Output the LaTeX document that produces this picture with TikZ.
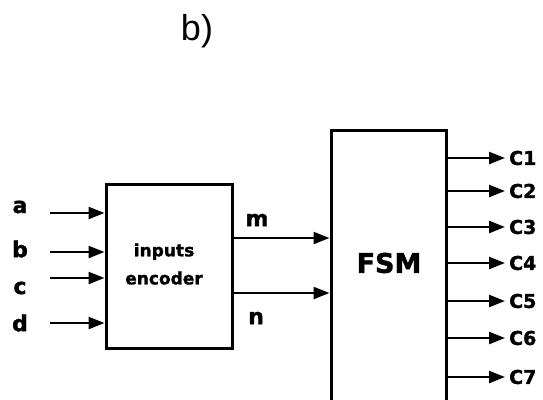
\documentclass[tikz,border=0pt]{standalone}
\usepackage{fontspec}
\setmainfont{DejaVu Sans}
\newfontfamily\titlefont{Liberation Sans}
\newfontfamily\heavy{DejaVu Sans Bold}[FakeBold=1.5]
\usetikzlibrary{arrows.meta}
\begin{document}
\begin{tikzpicture}[x=1pt,y=-1pt,
  blk/.style={draw,line width=3pt,inner sep=0pt},
  sig/.style={line width=2.4pt,-{Triangle[length=16pt,width=12pt]}},
  lbl/.style={font=\heavy\fontsize{22}{24}\selectfont,inner sep=0pt},
  clbl/.style={font=\heavy\fontsize{19}{20}\selectfont,inner sep=0pt,anchor=west}]
\useasboundingbox (0,0) rectangle (543,399);
\node[font=\titlefont\fontsize{36}{38}\selectfont] (title) at (197,31) {b)};
% boxes
\node[blk,minimum width=126pt,minimum height=164pt] (enc) at (169,266) {};
\node[blk,minimum width=115pt,minimum height=300pt] (fsm) at (388.5,280) {};
\node[font=\heavy\fontsize{17}{28}\selectfont,align=center,inner sep=0pt] (enctxt) at (164,264) {inputs\\encoder};
\node[font=\heavy\fontsize{27}{28}\selectfont,inner sep=0pt] (fsmtxt) at (389,263) {FSM};
% inputs
\node[lbl] (la) at (20,207) {a};
\node[lbl] (lb) at (20,249) {b};
\node[lbl] (lc) at (20,288) {c};
\node[lbl] (ld) at (20,323) {d};
\coordinate (ia) at (50,213);
\coordinate (ib) at (50,252);
\coordinate (ic) at (50,278);
\coordinate (id) at (50,323);
\foreach \i in {a,b,c,d}{\draw[sig] (i\i) -- (i\i -| enc.west);}
% m, n
\coordinate (pm) at (232,238);
\coordinate (pn) at (232,293);
\draw[sig] (pm -| enc.east) -- (pm -| fsm.west);
\draw[sig] (pn -| enc.east) -- (pn -| fsm.west);
\node[lbl] (lm) at (257,220) {m};
\node[lbl] (ln) at (256,318) {n};
% outputs
\foreach \k/\yy in {1/158,2/191,3/227,4/263,5/301,6/338,7/377}{
  \coordinate (o\k) at (505,\yy);
  \draw[sig] (o\k -| fsm.east) -- (o\k);
  \node[clbl] (c\k) at (509,\yy) {C\k};
}
\end{tikzpicture}
\end{document}
